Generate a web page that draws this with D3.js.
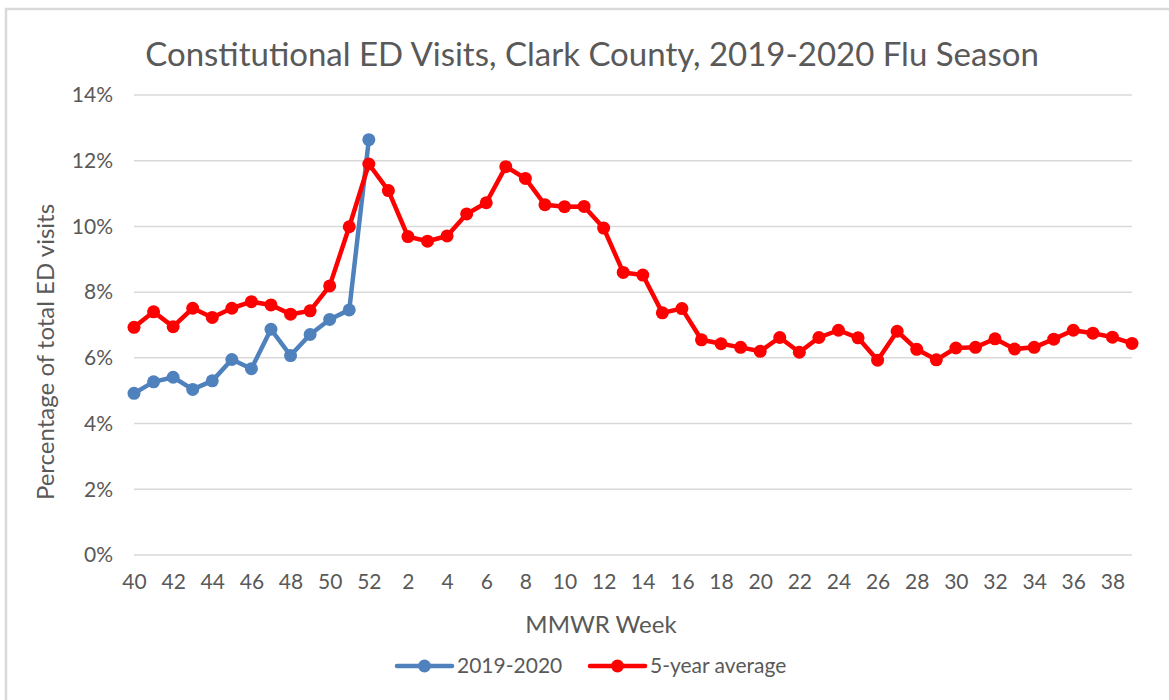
<!DOCTYPE html>
<html>
<head>
<meta charset="utf-8">
<script src="https://cdn.jsdelivr.net/npm/d3@7"></script>
<style>
  body { margin: 0; background: #fff; }
  svg { display: block; font-family: Lato, "Open Sans", sans-serif; }
</style>
</head>
<body>
<svg width="1169" height="700"></svg>
<script>
// MMWR weeks, season runs 40..52 then 1..39
const weeks = [40, 41, 42, 43, 44, 45, 46, 47, 48, 49, 50, 51, 52,
  1, 2, 3, 4, 5, 6, 7, 8, 9, 10, 11, 12, 13, 14, 15, 16, 17, 18, 19, 20,
  21, 22, 23, 24, 25, 26, 27, 28, 29, 30, 31, 32, 33, 34, 35, 36, 37, 38, 39];

// 2019-2020 season (only reported through week 52)
const season2019 = [4.92, 5.27, 5.41, 5.04, 5.30, 5.95, 5.67, 6.87, 6.07, 6.71, 7.17, 7.46, 12.64];

// 5-year average
const fiveYearAvg = [6.93, 7.40, 6.95, 7.51, 7.23, 7.51, 7.71, 7.61, 7.33, 7.43, 8.19, 9.99, 11.90,
  11.09, 9.69, 9.55, 9.71, 10.38, 10.72, 11.82, 11.46, 10.66, 10.60, 10.61, 9.95, 8.60, 8.52,
  7.37, 7.50, 6.55, 6.43, 6.32, 6.20, 6.62, 6.17, 6.62, 6.84, 6.61, 5.93, 6.81, 6.26, 5.94,
  6.30, 6.32, 6.58, 6.27, 6.32, 6.57, 6.84, 6.75, 6.63, 6.44];

const yTicks = [0, 2, 4, 6, 8, 10, 12, 14];

const svg = d3.select("svg");
const margin = {top: 95, right: 37, bottom: 145, left: 134};
const width = 1169 - margin.left - margin.right;
const height = 700 - margin.top - margin.bottom;
const textColor = "#595959";

// chart frame (top and left edges only show in the source)
svg.append("path")
    .attr("d", "M6,700V9H1169")
    .attr("fill", "none")
    .attr("stroke", "#d9d9d9")
    .attr("stroke-width", 2.5);

const g = svg.append("g").attr("transform", `translate(${margin.left},${margin.top})`);

const x = d3.scalePoint()
    .domain(d3.range(weeks.length))
    .range([0, width]);

const y = d3.scaleLinear()
    .domain([0, 14])
    .range([height, 0]);

// gridlines
g.append("g")
    .selectAll("line")
    .data(yTicks)
    .join("line")
    .attr("x1", 0)
    .attr("x2", width)
    .attr("y1", (d) => y(d))
    .attr("y2", (d) => y(d))
    .attr("stroke", "#d9d9d9")
    .attr("stroke-width", 1.5);

// y axis labels
const yAxis = g.append("g")
    .call(d3.axisLeft(y).tickValues(yTicks).tickFormat((d) => d + "%").tickSize(0).tickPadding(21));
yAxis.select(".domain").remove();
yAxis.selectAll("text")
    .attr("fill", textColor)
    .style("font-size", "21px")
    .style("font-family", "Lato, sans-serif");

// x axis labels, every other week
const xAxis = g.append("g")
    .attr("transform", `translate(0,${height})`)
    .call(d3.axisBottom(x)
        .tickValues(d3.range(0, weeks.length, 2))
        .tickFormat((i) => weeks[i])
        .tickSize(0)
        .tickPadding(19));
xAxis.select(".domain").remove();
xAxis.selectAll("text")
    .attr("fill", textColor)
    .style("font-size", "21px")
    .style("font-family", "Lato, sans-serif");

const line = d3.line()
    .x((d, i) => x(i))
    .y((d) => y(d));

const series = [
    {name: "2019-2020", values: season2019, color: "#4f81bd"},
    {name: "5-year average", values: fiveYearAvg, color: "#ff0000"}
];

series.forEach((s) => {
    g.append("path")
        .datum(s.values)
        .attr("fill", "none")
        .attr("stroke", s.color)
        .attr("stroke-width", 4.5)
        .attr("stroke-linejoin", "round")
        .attr("d", line);

    g.append("g")
        .selectAll("circle")
        .data(s.values)
        .join("circle")
        .attr("cx", (d, i) => x(i))
        .attr("cy", (d) => y(d))
        .attr("r", 6.5)
        .attr("fill", s.color);
});

// title
svg.append("text")
    .attr("x", 592)
    .attr("y", 66)
    .attr("text-anchor", "middle")
    .attr("fill", textColor)
    .style("font-size", "33px")
    .text("Constitutional ED Visits, Clark County, 2019-2020 Flu Season");

// axis titles
svg.append("text")
    .attr("x", 601)
    .attr("y", 633)
    .attr("text-anchor", "middle")
    .attr("fill", textColor)
    .style("font-size", "24px")
    .text("MMWR Week");

svg.append("text")
    .attr("transform", "translate(54,352) rotate(-90)")
    .attr("text-anchor", "middle")
    .attr("fill", textColor)
    .style("font-size", "24px")
    .text("Percentage of total ED visits");

// legend
const legendX = [397, 590];
const legend = svg.append("g").attr("transform", "translate(0,666)");
series.forEach((s, i) => {
    const lg = legend.append("g").attr("transform", `translate(${legendX[i]},0)`);
    lg.append("line")
        .attr("x1", 0).attr("x2", 55)
        .attr("stroke", s.color)
        .attr("stroke-width", 4.5)
        .attr("stroke-linecap", "round");
    lg.append("circle")
        .attr("cx", 27.5)
        .attr("r", 6.5)
        .attr("fill", s.color);
    lg.append("text")
        .attr("x", 60)
        .attr("dy", "0.35em")
        .attr("fill", textColor)
        .style("font-size", "21px")
        .text(s.name);
});
</script>
</body>
</html>
